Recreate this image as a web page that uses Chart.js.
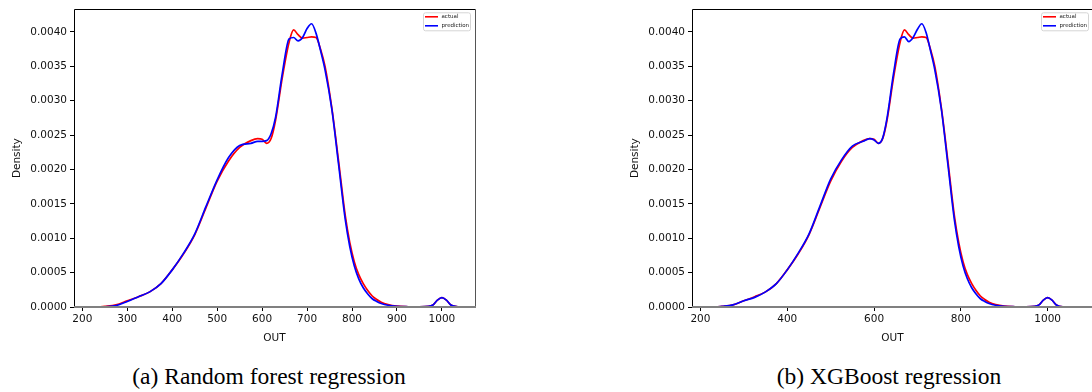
<!DOCTYPE html>
<html>
<head>
<meta charset="utf-8">
<title>Density of OUT - actual vs prediction</title>
<script src="https://cdn.jsdelivr.net/npm/chart.js@4.4.0/dist/chart.umd.min.js"></script>
<style>
  html, body {
    margin: 0;
    padding: 0;
    background: #fff;
    width: 1092px;
    height: 392px;
    overflow: hidden;
    position: relative;
  }
  .panel {
    position: absolute;
    top: 0;
  }
  #panelA { left: 0; }
  #panelB { left: 618px; }
  .caption {
    position: absolute;
    top: 363px;
    font-family: "Liberation Serif", "Times New Roman", serif;
    font-size: 23.5px;
    color: #000;
    white-space: nowrap;
    transform: translateX(-50%);
  }
</style>
</head>
<body>
<canvas id="panelA" class="panel" width="480" height="345"></canvas>
<canvas id="panelB" class="panel" width="480" height="345"></canvas>
<div class="caption" style="left:269px">(a) Random forest regression</div>
<div class="caption" style="left:889px">(b) XGBoost regression</div>

<script>
// ===========================
// DATA
// ===========================
const outGrid = [220, 230, 240, 250, 275, 300, 325, 350, 375, 400, 425, 450, 475, 500, 525, 550, 575, 590, 600, 610,
  620, 630, 645, 660, 670, 680, 690, 700, 710, 720, 730, 740, 755, 770, 785, 795, 805, 815, 825, 835,
  845, 855, 865, 880, 900, 925, 950, 970, 980, 990, 1000, 1010, 1020, 1035, 1050, 1063];

const actualDensity = [0, 0.000001, 0.000003, 0.000008, 0.00003, 0.00009, 0.00015, 0.00022, 0.00034, 0.00054,
  0.00077, 0.00105, 0.00144, 0.00183, 0.00212, 0.00232, 0.00242, 0.00245, 0.00244, 0.00238,
  0.00245, 0.00272, 0.00334, 0.00385, 0.00403, 0.00396, 0.00391, 0.00392, 0.00393, 0.00392,
  0.00375, 0.0035, 0.0029, 0.00213, 0.00133, 0.00094, 0.00066, 0.00047, 0.00034, 0.00024,
  0.00016, 0.00011, 0.00007, 0.000035, 0.000012, 0.000004, 0.000002, 0.000008, 0.00003, 0.0001,
  0.000135, 0.0001, 0.00003, 0.000002, 0.000001, 0];

const rfPrediction = [null, null, 0, 0.000003, 0.00002, 0.00008, 0.00015, 0.00022, 0.00034, 0.00054,
  0.00078, 0.00106, 0.00146, 0.00185, 0.00217, 0.00235, 0.00238, 0.00241, 0.00241, 0.00242,
  0.00252, 0.00276, 0.0034, 0.0039, 0.00392, 0.00387, 0.00392, 0.00405, 0.00412, 0.00398,
  0.00373, 0.00345, 0.00288, 0.00208, 0.00127, 0.00088, 0.0006, 0.00041, 0.00028, 0.00019,
  0.00012, 0.00008, 0.00005, 0.000025, 0.00001, 0.000004, 0.000002, 0.000008, 0.00003, 0.0001,
  0.000135, 0.0001, 0.00003, 0.000002, 0.000001, 0];

const xgbPrediction = [0, 0.000001, 0.000003, 0.000008, 0.00003, 0.00009, 0.00014, 0.00022, 0.00034, 0.00054,
  0.00078, 0.00106, 0.00146, 0.00186, 0.00214, 0.00234, 0.00241, 0.00245, 0.00243, 0.00238,
  0.00246, 0.00275, 0.0034, 0.0039, 0.00393, 0.00386, 0.00392, 0.00404, 0.00412, 0.00399,
  0.00373, 0.00345, 0.00288, 0.00208, 0.00127, 0.00088, 0.0006, 0.00041, 0.00028, 0.00019,
  0.00012, 0.00008, 0.00005, 0.000025, 0.00001, 0.000004, 0.000002, 0.000008, 0.00003, 0.0001,
  0.000135, 0.0001, 0.00003, 0.000003, 0.000001, 0];

const densityTicks = [0, 0.0005, 0.001, 0.0015, 0.002, 0.0025, 0.003, 0.0035, 0.004];
const outTicksA = [200, 300, 400, 500, 600, 700, 800, 900, 1000];
const outTicksB = [200, 400, 600, 800, 1000];
const legendLabels = ['actual', 'prediction'];

// ===========================
// HELPERS
// ===========================

/**
 * Pair the grid with a density series, dropping gaps and anything past the KDE cut
 */
function toPoints(values, lastOut) {
  const pts = [];
  outGrid.forEach((x, i) => {
    if (values[i] !== null && x <= lastOut) pts.push({ x: x, y: values[i] });
  });
  return pts;
}

// Axes frame: black spines, grey baseline
const frameBox = {
  id: 'frameBox',
  afterDraw(chart) {
    const { ctx, chartArea: a } = chart;
    ctx.save();
    ctx.strokeStyle = '#000';
    ctx.lineWidth = 1;
    ctx.beginPath();
    ctx.moveTo(Math.round(a.left) + 0.5, Math.round(a.bottom));
    ctx.lineTo(Math.round(a.left) + 0.5, Math.round(a.top) + 0.5);
    ctx.lineTo(Math.round(a.right) + 0.5, Math.round(a.top) + 0.5);
    ctx.stroke();
    ctx.strokeStyle = '#555';
    ctx.beginPath();
    ctx.moveTo(Math.round(a.right) + 0.5, Math.round(a.top) + 0.5);
    ctx.lineTo(Math.round(a.right) + 0.5, Math.round(a.bottom));
    ctx.stroke();
    ctx.strokeStyle = '#808080';
    ctx.lineWidth = 2;
    ctx.beginPath();
    ctx.moveTo(a.left, Math.round(a.bottom));
    ctx.lineTo(a.right + 1, Math.round(a.bottom));
    ctx.stroke();
    ctx.restore();
  }
};

// Tiny legend tucked into the upper right corner of the axes
const innerLegend = {
  id: 'innerLegend',
  afterDraw(chart) {
    const { ctx, chartArea: a } = chart;
    const x0 = a.right - 52;
    const y0 = a.top + 3;
    ctx.save();
    ctx.fillStyle = 'rgba(255,255,255,0.8)';
    ctx.strokeStyle = '#d5d5d5';
    ctx.lineWidth = 1;
    ctx.beginPath();
    ctx.roundRect(x0 + 0.5, y0 + 0.5, 47, 18, 2);
    ctx.fill();
    ctx.stroke();
    ctx.font = '5.5px "DejaVu Sans"';
    ctx.textBaseline = 'middle';
    chart.data.datasets.forEach((ds, i) => {
      const y = y0 + 4.5 + i * 9;
      ctx.strokeStyle = ds.borderColor;
      ctx.lineWidth = 1.6;
      ctx.beginPath();
      ctx.moveTo(x0 + 2, y);
      ctx.lineTo(x0 + 15, y);
      ctx.stroke();
      ctx.fillStyle = '#222';
      ctx.fillText(legendLabels[i], x0 + 18.5, y);
    });
    ctx.restore();
  }
};

/**
 * Build one density panel
 */
function buildPanel(canvasId, prediction, lastOut, xMin, xMax, xTicks) {
  const tickFont = { family: '"DejaVu Sans"', size: 10.5 };
  return new Chart(document.getElementById(canvasId), {
    type: 'line',
    data: {
      datasets: [
        {
          label: legendLabels[0],
          data: toPoints(actualDensity, lastOut),
          borderColor: '#ff0000',
          borderWidth: 1.7,
          pointRadius: 0,
          cubicInterpolationMode: 'monotone',
          fill: false,
          order: 1
        },
        {
          label: legendLabels[1],
          data: toPoints(prediction, lastOut),
          borderColor: '#0000ff',
          borderWidth: 1.7,
          pointRadius: 0,
          cubicInterpolationMode: 'monotone',
          fill: false,
          order: 0
        }
      ]
    },
    options: {
      responsive: false,
      animation: false,
      layout: { padding: { top: 8, right: 5, left: 0, bottom: 0 } },
      plugins: {
        legend: { display: false },
        tooltip: { enabled: false }
      },
      scales: {
        x: {
          type: 'linear',
          min: xMin,
          max: xMax,
          afterBuildTicks: s => { s.ticks = xTicks.map(v => ({ value: v })); },
          afterFit: s => { s.height = 38; },
          border: { display: false },
          grid: { drawOnChartArea: false, drawTicks: true, tickLength: 4, color: '#000' },
          ticks: { font: tickFont, color: '#111', padding: 2, maxRotation: 0, callback: v => String(v) },
          title: { display: true, text: 'OUT', font: tickFont, color: '#111', padding: { top: 4, bottom: 0 } }
        },
        y: {
          min: 0,
          max: 0.00433,
          afterBuildTicks: s => { s.ticks = densityTicks.map(v => ({ value: v })); },
          afterFit: s => { s.width = 74; },
          border: { display: false },
          grid: { drawOnChartArea: false, drawTicks: true, tickLength: 4, color: '#000' },
          ticks: { font: tickFont, color: '#111', padding: 3, callback: v => v.toFixed(4) },
          title: { display: true, text: 'Density', font: tickFont, color: '#111', padding: { top: 10.7, bottom: 0 } }
        }
      }
    },
    plugins: [frameBox, innerLegend]
  });
}

// ===========================
// INITIALIZATION
// ===========================
buildPanel('panelA', rfPrediction, 1035, 181.5, 1073.6, outTicksA);
buildPanel('panelB', xgbPrediction, 1063, 180.6, 1104.4, outTicksB);
</script>
</body>
</html>
